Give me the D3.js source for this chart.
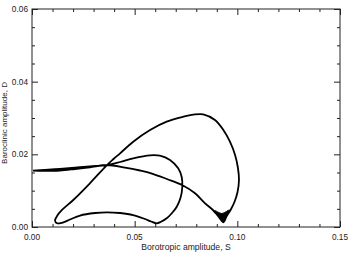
<!DOCTYPE html>
<html>
<head>
<meta charset="utf-8">
<script src="https://cdn.jsdelivr.net/npm/d3@7"></script>
<style>
  body { margin: 0; background: #fff; }
  text { font-family: "Liberation Sans", Arial, sans-serif; fill: #222; }
</style>
</head>
<body>
<div id="chart"></div>
<script>
// axis ticks
var xMajor = [0, 0.05, 0.10, 0.15],
    yMajor = [0, 0.02, 0.04, 0.06];
var xMinor = [0.01, 0.02, 0.03, 0.04, 0.06, 0.07, 0.08, 0.09, 0.11, 0.12, 0.13, 0.14],
    yMinor = [0.005, 0.01, 0.015, 0.025, 0.03, 0.035, 0.045, 0.05, 0.055];

// trajectory, one period (S = barotropic, D = baroclinic)
var S = [0.0005, 0.0063, 0.0136, 0.0209, 0.0282, 0.0365, 0.0429, 0.0493, 0.0575, 0.0623,
         0.0672, 0.0712, 0.0729, 0.0732, 0.0723, 0.0705, 0.0682, 0.0656, 0.0628, 0.0607,
         0.0580, 0.0550, 0.0492, 0.0429, 0.0365, 0.0307, 0.0234, 0.0185, 0.0146, 0.0122,
         0.0112, 0.0122, 0.0146, 0.0201, 0.0282, 0.0365, 0.0397, 0.0429, 0.0493, 0.0575,
         0.0656, 0.0737, 0.0786, 0.0834, 0.0891, 0.0932, 0.0964, 0.0989, 0.1003, 0.1008,
         0.1001, 0.0986, 0.0967, 0.0947, 0.0932, 0.0906, 0.0881, 0.0843, 0.0794, 0.0731,
         0.0657, 0.0584, 0.0526, 0.0453, 0.0365, 0.0282, 0.0209, 0.0136, 0.0063, 0.0005];
var D = [0.01549, 0.01574, 0.01602, 0.01637, 0.0167, 0.01706, 0.01789, 0.01891, 0.01973, 0.01962,
         0.01844, 0.01615, 0.01376, 0.01101, 0.00798, 0.00559, 0.00385, 0.00239, 0.00143, 0.00102,
         0.00151, 0.0022, 0.0033, 0.00385, 0.00405, 0.00385, 0.00316, 0.00206, 0.00116, 0.00102,
         0.00179, 0.00303, 0.00468, 0.00743, 0.01203, 0.01706, 0.01871, 0.02028, 0.02347, 0.02669,
         0.02898, 0.03035, 0.03093, 0.03101, 0.02945, 0.02669, 0.02347, 0.01981, 0.01624, 0.01293,
         0.00963, 0.00688, 0.00468, 0.00289, 0.00129, 0.00303, 0.00468, 0.00652, 0.00927, 0.01156,
         0.01321, 0.01472, 0.01555, 0.01637, 0.01706, 0.01643, 0.01596, 0.01555, 0.01544, 0.01549];

// the dense bundle of passes at the right cusp
var cuspS = [0.0962, 0.0947, 0.0932, 0.0911, 0.0889, 0.0925],
    cuspD = [0.00468, 0.00303, 0.00129, 0.00289, 0.00454, 0.00372];

var margin = {top: 9, right: 8, bottom: 26, left: 32},
    width = 348 - margin.left - margin.right,
    height = 253 - margin.top - margin.bottom;

var svg = d3.select("#chart")
    .append("svg")
    .attr("width", 348)
    .attr("height", 253)
    .append("g")
    .attr("transform", "translate(" + margin.left + "," + margin.top + ")");

var x = d3.scaleLinear().domain([0, 0.15]).range([0, width]);
var y = d3.scaleLinear().domain([0, 0.06]).range([height, 0]);

var fmt = d3.format(".2f");

// axes, ticks pointing inward on all four sides
function ticks(axis, vals, len, g) {
    axis.tickValues(vals).tickSize(len).tickFormat("");
    g.call(axis);
    g.select(".domain").remove();
    g.selectAll("line").attr("stroke", "#222");
}

var gBottom = svg.append("g").attr("transform", "translate(0," + height + ")");
ticks(d3.axisTop(x), xMajor, 6, gBottom.append("g"));
ticks(d3.axisTop(x), xMinor, 3, gBottom.append("g"));
var gTop = svg.append("g");
ticks(d3.axisBottom(x), xMajor, 6, gTop.append("g"));
ticks(d3.axisBottom(x), xMinor, 3, gTop.append("g"));
var gLeft = svg.append("g");
ticks(d3.axisRight(y), yMajor, 6, gLeft.append("g"));
ticks(d3.axisRight(y), yMinor, 3, gLeft.append("g"));
var gRight = svg.append("g").attr("transform", "translate(" + width + ",0)");
ticks(d3.axisLeft(y), yMajor, 6, gRight.append("g"));
ticks(d3.axisLeft(y), yMinor, 3, gRight.append("g"));

svg.append("rect")
    .attr("width", width)
    .attr("height", height)
    .attr("fill", "none")
    .attr("stroke", "#222")
    .attr("stroke-width", 1);

// tick labels
svg.selectAll(".xl")
    .data(xMajor)
    .enter().append("text")
    .attr("x", function(d) { return x(d); })
    .attr("y", height + 12.5)
    .attr("text-anchor", "middle")
    .style("font-size", "8.3px")
    .text(fmt);

svg.selectAll(".yl")
    .data(yMajor)
    .enter().append("text")
    .attr("x", -4)
    .attr("y", function(d) { return y(d) + 3; })
    .attr("text-anchor", "end")
    .style("font-size", "8.3px")
    .text(fmt);

// titles
svg.append("text")
    .attr("x", width / 2)
    .attr("y", height + 22.5)
    .attr("text-anchor", "middle")
    .style("font-size", "8.6px")
    .text("Borotropic amplitude, S");

svg.append("text")
    .attr("transform", "translate(" + (-25.5) + "," + (height / 2 + 5) + ")rotate(-90)")
    .attr("text-anchor", "middle")
    .style("font-size", "8px")
    .text("Baroclinic amplitude, D");

// curve
var line = d3.line()
    .x(function(d) { return x(d[0]); })
    .y(function(d) { return y(d[1]); })
    .curve(d3.curveCatmullRom.alpha(0.5));

svg.append("path")
    .datum(d3.zip(S, D))
    .attr("d", line)
    .attr("fill", "none")
    .attr("stroke", "#000")
    .attr("stroke-width", 1.8);

svg.append("path")
    .datum(d3.zip(cuspS, cuspD))
    .attr("d", d3.line()
        .x(function(d) { return x(d[0]); })
        .y(function(d) { return y(d[1]); })
        .curve(d3.curveCatmullRomClosed.alpha(0.5)))
    .attr("fill", "#000")
    .attr("stroke", "#000")
    .attr("stroke-width", 1);
</script>
</body>
</html>
